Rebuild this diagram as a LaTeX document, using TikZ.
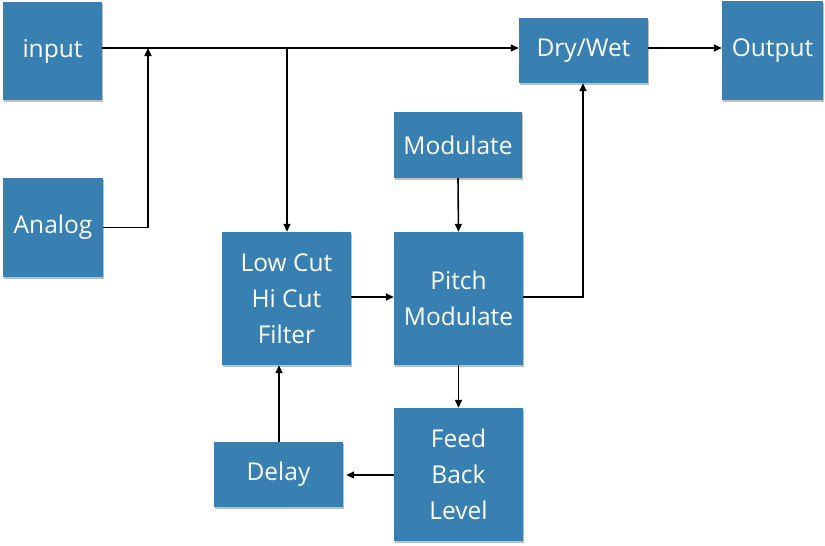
\documentclass[tikz,border=0pt]{standalone}
\usepackage{fontspec}
\setmainfont{Open Sans}
\usetikzlibrary{arrows.meta,shadows}
\definecolor{boxblue}{RGB}{56,128,178}
\begin{document}
\begin{tikzpicture}[x=1pt,y=-1pt,
  blk/.style={fill=boxblue,text=white,inner sep=0pt,align=center,
    font=\fontsize{24.5}{36}\selectfont,
    drop shadow={shadow xshift=1pt,shadow yshift=-1.5pt,fill=black,opacity=0.25}},
  conn/.style={draw=black,line width=1.6pt,-{Triangle[length=8pt,width=7pt]}},
  plain/.style={draw=black,line width=1.6pt}]
\useasboundingbox (0,0) rectangle (825,546);
\node[blk,minimum width=99pt,minimum height=98pt] (input) at (52.5,51) {input};
\node[blk,minimum width=100pt,minimum height=99pt] (analog) at (53,227.5) {Analog};
\node[blk,minimum width=129pt,minimum height=65pt] (drywet) at (583.5,50.5) {Dry/Wet};
\node[blk,minimum width=101pt,minimum height=99pt] (output) at (772.5,50.5) {Output};
\node[blk,minimum width=128pt,minimum height=66pt] (modulate) at (458,145) {Modulate};
\node[blk,minimum width=129pt,minimum height=133pt] (filter) at (286.5,298.5) {Low Cut\\Hi Cut\\Filter};
\node[blk,minimum width=129pt,minimum height=133pt] (pitch) at (458.5,298.5) {Pitch\\Modulate};
\node[blk,minimum width=129pt,minimum height=65pt] (delay) at (278.5,474.5) {Delay};
\node[blk,minimum width=129pt,minimum height=133pt] (feed) at (458.5,474.5) {Feed\\Back\\Level};
\coordinate (j1) at (148,48);
\coordinate (j2) at (287,48);
\draw[conn] (input.east |- 0,48) -- (drywet.west |- 0,48);
\draw[conn] (drywet.east |- 0,48) -- (output.west |- 0,48);
\draw[conn] (analog.east) -- (148,227.5) -- (j1);
\draw[conn] (j2) -- (filter.north -| j2);
\draw[conn] (modulate.south) -- (pitch.north);
\draw[conn] (filter.east |- 0,297) -- (pitch.west |- 0,297);
\draw[conn] (pitch.east |- 0,297) -- (583,297) -- (drywet.south -| 583,0);
\draw[conn] (pitch.south) -- (feed.north);
\draw[conn] (feed.west |- 0,475) -- ([xshift=3pt]delay.east |- 0,475);
\draw[conn] (delay.north -| 279,0) -- (filter.south -| 279,0);
\end{tikzpicture}
\end{document}
